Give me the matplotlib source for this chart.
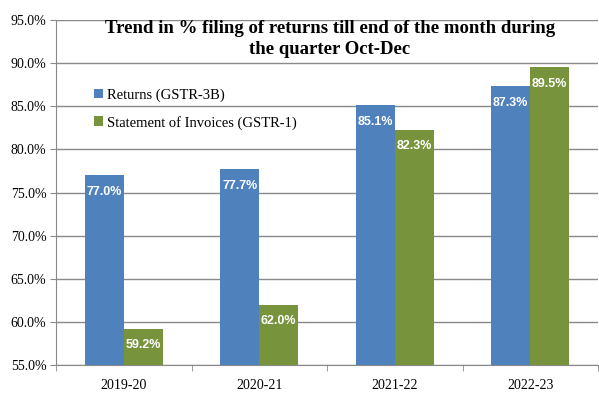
import matplotlib
matplotlib.use("Agg")
import matplotlib.pyplot as plt
import numpy as np
from matplotlib.ticker import FuncFormatter, MultipleLocator

categories = ["2019-20", "2020-21", "2021-22", "2022-23"]
gstr3b = [77.0, 77.7, 85.1, 87.3]
gstr1 = [59.2, 62.0, 82.3, 89.5]
series_names = ["Returns (GSTR-3B)", "Statement of Invoices (GSTR-1)"]
title = "Trend in % filing of returns till end of the month during\nthe quarter Oct-Dec"

blue = "#4F81BD"
green = "#77933C"
serif = "Liberation Serif"

fig = plt.figure(figsize=(5.99, 3.96), dpi=100)
ax = fig.add_axes([56/599, 1-365/396, (598-56)/599, (365-20)/396])

x = np.arange(len(categories))
w = 0.287
b1 = ax.bar(x - w/2, gstr3b, w, color=blue, label=series_names[0], zorder=3)
b2 = ax.bar(x + w/2, gstr1, w, color=green, label=series_names[1], zorder=3)

ax.set_ylim(55, 95)
ax.set_xlim(-0.5, len(categories) - 0.5)
ax.yaxis.set_major_locator(MultipleLocator(5))
ax.yaxis.set_major_formatter(FuncFormatter(lambda v, p: f"{v:.1f}%"))
ax.grid(axis="y", color="#898989", linewidth=1.0, zorder=0)
for s in ["top", "right"]:
    ax.spines[s].set_visible(False)
ax.spines["left"].set_color("#898989")
ax.spines["bottom"].set_color("#898989")
ax.set_xticks(x)
ax.set_xticklabels(categories)
ax.set_xticks(np.arange(len(categories) + 1) - 0.5, minor=True)
ax.tick_params(axis="x", which="major", length=0, pad=10)
ax.tick_params(axis="x", which="minor", length=4, color="#898989")
ax.tick_params(axis="y", length=4, color="#898989", pad=3)
for lab in ax.get_xticklabels() + ax.get_yticklabels():
    lab.set_fontfamily(serif)
    lab.set_fontsize(10)

for bars, vals in [(b1, gstr3b), (b2, gstr1)]:
    for bar, v in zip(bars, vals):
        ax.annotate(f"{v:.1f}%", (bar.get_x() + bar.get_width()/2, v),
                    xytext=(0, -7.5), textcoords="offset points",
                    ha="center", va="top", color="white", fontsize=9,
                    fontweight="bold", fontfamily="Liberation Sans", zorder=4)

leg = ax.legend(loc="upper left", bbox_to_anchor=(0.045, 0.84), frameon=False,
                prop={"family": serif, "size": 10.5}, handlelength=0.65,
                handleheight=0.65, handletextpad=0.3, labelspacing=0.95)

fig.text(330/599, 1-39/396, title, ha="center", va="center",
         fontfamily=serif, fontweight="bold", fontsize=13.5, linespacing=1.35)

fig.savefig("out.png", dpi=100)
